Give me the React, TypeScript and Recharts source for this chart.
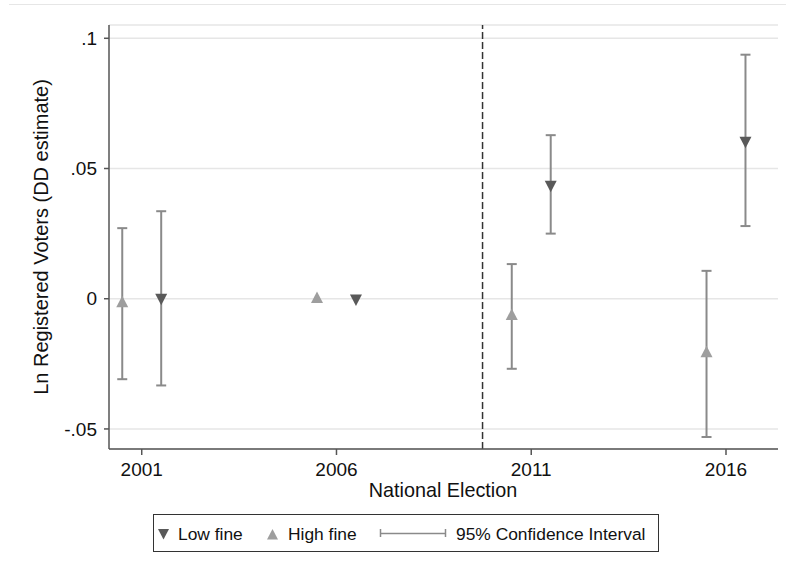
import React from 'react';
import {
  ComposedChart, Scatter, ErrorBar, XAxis, YAxis, CartesianGrid, ReferenceLine
} from 'recharts';

// DD estimates by national election
const elections = [2001, 2006, 2011, 2016];
const lowFineEst = [0.0003, 0, 0.0436, 0.0605];
const lowFineLo = [-0.0333, null, 0.025, 0.0279];
const lowFineHi = [0.0336, null, 0.0628, 0.0937];
const highFineEst = [-0.0016, 0, -0.0065, -0.0208];
const highFineLo = [-0.0309, null, -0.0269, -0.0531];
const highFineHi = [0.0271, null, 0.0133, 0.0107];

const yTicks = [-0.05, 0, 0.05, 0.1];
const yTickLabels = ['-.05', '0', '.05', '.1'];
const reformLine = 2009.75;
const dodge = 0.5;

const FONT = '"Liberation Sans", Arial, Helvetica, sans-serif';
const LOW_COLOR = '#595959';
const HIGH_COLOR = '#9e9e9e';
const CI_COLOR = '#8a8a8a';

const buildSeries = (est: number[], lo: (number | null)[], hi: (number | null)[], shift: number) =>
  elections.map((year, i) => ({
    x: year + shift,
    y: est[i],
    err: lo[i] == null || hi[i] == null ? undefined : [est[i] - (lo[i] as number), (hi[i] as number) - est[i]],
  }));

const lowFineData = buildSeries(lowFineEst, lowFineLo, lowFineHi, dodge);
const highFineData = buildSeries(highFineEst, highFineLo, highFineHi, -dodge);

const DownTriangle = (props: any) => {
  const { cx, cy } = props;
  return <path d={`M${cx - 6},${cy - 4.3} L${cx + 6},${cy - 4.3} L${cx},${cy + 7.2} Z`} fill={LOW_COLOR} />;
};

const UpTriangle = (props: any) => {
  const { cx, cy } = props;
  return <path d={`M${cx - 6},${cy + 4.3} L${cx + 6},${cy + 4.3} L${cx},${cy - 7.2} Z`} fill={HIGH_COLOR} />;
};

const yTickFormat = (v: number) => {
  const i = yTicks.indexOf(v);
  return i >= 0 ? yTickLabels[i] : String(v);
};

const Legend = () => (
  <svg width={506} height={38} style={{ position: 'absolute', left: 153, top: 514, fontFamily: FONT }}>
    <rect x={0.5} y={0.5} width={505} height={37} fill="#fff" stroke="#333" strokeWidth={1} />
    <path d="M5,15 L16,15 L10.5,25.5 Z" fill={LOW_COLOR} />
    <text x={25} y={26} fontSize={17.4} fill="#111">Low fine</text>
    <path d="M114,25.5 L125,25.5 L119.5,15 Z" fill={HIGH_COLOR} />
    <text x={135} y={26} fontSize={17.4} fill="#111">High fine</text>
    <line x1={227} y1={19.5} x2={293} y2={19.5} stroke={CI_COLOR} strokeWidth={1.5} />
    <line x1={227.5} y1={15} x2={227.5} y2={23} stroke={CI_COLOR} strokeWidth={1.5} />
    <line x1={292.5} y1={15} x2={292.5} y2={23} stroke={CI_COLOR} strokeWidth={1.5} />
    <text x={303} y={26} fontSize={17.4} fill="#111">95% Confidence Interval</text>
  </svg>
);

export default function App() {
  return (
    <div style={{ position: 'absolute', left: 0, top: 0, width: 786, height: 579, background: '#fff', fontFamily: FONT }}>
      <div style={{ position: 'absolute', left: 9, top: 4, width: 777, height: 1, background: '#e6e6e6' }} />
      <ComposedChart
        width={786}
        height={579}
        margin={{ top: 25, right: 8, bottom: 100, left: 0 }}
        style={{ fontFamily: FONT }}
      >
        <CartesianGrid vertical={false} stroke="#e6e6e6" strokeWidth={1.5} />
        <XAxis
          dataKey="x"
          type="number"
          domain={[2000.16, 2017.335]}
          ticks={elections}
          allowDataOverflow
          height={30}
          tickSize={6}
          tickMargin={8}
          stroke="#555"
          strokeWidth={1.5}
          tick={{ fontSize: 19, fill: '#111' }}
          label={() => (
            <text x={443} y={497} textAnchor="middle" fontSize={19.8} fill="#111" fontFamily={FONT}>
              National Election
            </text>
          )}
        />
        <YAxis
          type="number"
          domain={[-0.0577, 0.1051]}
          ticks={yTicks}
          allowDataOverflow
          width={109}
          tickSize={5}
          tickMargin={7}
          stroke="#555"
          strokeWidth={1.5}
          tickFormatter={yTickFormat}
          tick={{ fontSize: 19, fill: '#111' }}
          label={() => (
            <text
              x={48}
              y={237}
              textAnchor="middle"
              fontSize={20}
              fill="#111"
              fontFamily={FONT}
              transform="rotate(-90 48 237)"
            >
              Ln Registered Voters (DD estimate)
            </text>
          )}
        />
        <ReferenceLine x={reformLine} stroke="#333" strokeWidth={1.5} strokeDasharray="7 3" />
        <Scatter name="High fine" data={highFineData} dataKey="y" shape={UpTriangle} isAnimationActive={false}>
          <ErrorBar dataKey="err" direction="y" width={5} stroke={CI_COLOR} strokeWidth={2} isAnimationActive={false} />
        </Scatter>
        <Scatter name="Low fine" data={lowFineData} dataKey="y" shape={DownTriangle} isAnimationActive={false}>
          <ErrorBar dataKey="err" direction="y" width={5} stroke={CI_COLOR} strokeWidth={2} isAnimationActive={false} />
        </Scatter>
      </ComposedChart>
      <Legend />
    </div>
  );
}
